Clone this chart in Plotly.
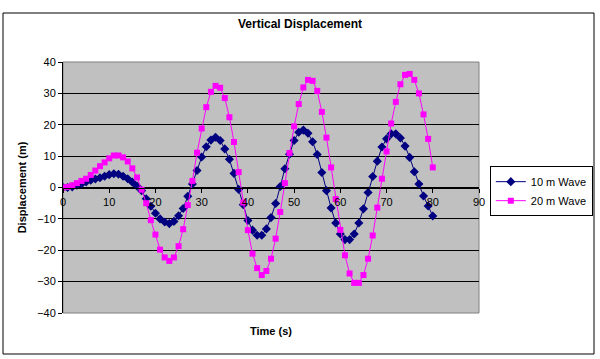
import plotly.graph_objects as go

time_s = list(range(0, 81))

wave_10m = [0, 0, 0.2, 0.7, 1.1, 1.8, 2.3, 2.7, 3.1, 3.6,
            4.1, 4.4, 4.2, 3.6, 2.8, 1.7, 0.5, -1.0, -3.6, -6.0,
            -8.2, -10.0, -11.0, -11.5, -10.8, -9.0, -6.7, -2.8, 1.1, 5.4,
            9.7, 13.0, 15.1, 16.0, 15.0, 12.3, 9.0, 4.5, -0.6, -5.5,
            -10.5, -13.6, -15.2, -15.2, -13.2, -9.6, -5.1, 0.3, 6.0, 10.6,
            15.0, 17.6, 18.3, 17.3, 14.6, 10.5, 4.8, -1.0, -6.5, -11.3,
            -14.8, -16.6, -16.6, -14.8, -11.3, -6.8, -1.6, 3.5, 8.4, 12.9,
            15.5, 17.1, 17.1, 15.8, 13.2, 9.6, 5.0, 1.1, -2.7, -5.9,
            -9.1]

wave_20m = [0, 0.2, 0.7, 1.4, 2.1, 2.8, 4.0, 5.4, 6.8, 8.0,
            9.3, 10.2, 10.2, 9.6, 8.3, 6.1, 3.2, -0.7, -5.0, -10.4,
            -15.0, -19.8, -22.3, -23.4, -22.3, -18.7, -13.3, -5.6, 2.1, 11.1,
            18.8, 25.6, 30.5, 32.4, 31.8, 28.5, 22.4, 14.5, 4.9, -4.8,
            -13.6, -21.1, -25.7, -27.9, -26.6, -22.7, -16.3, -7.8, 1.4, 11.0,
            19.5, 26.6, 31.9, 34.3, 34.0, 30.8, 24.1, 15.9, 6.4, -3.7,
            -13.5, -21.6, -27.4, -30.4, -30.4, -27.9, -22.7, -15.3, -6.4, 2.8,
            11.5, 20.4, 27.3, 32.9, 35.9, 36.2, 34.3, 30.0, 23.3, 15.5,
            6.4]

x_ticks = [0, 10, 20, 30, 40, 50, 60, 70, 80, 90]
y_ticks = [-40, -30, -20, -10, 0, 10, 20, 30, 40]

FONT = "Liberation Sans, Arial, sans-serif"

fig = go.Figure()
fig.add_trace(go.Scatter(
    x=time_s, y=wave_10m, name="10 m Wave", mode="lines+markers",
    line=dict(color="#000080", width=1),
    marker=dict(symbol="diamond", size=7, color="#000080"),
))
fig.add_trace(go.Scatter(
    x=time_s, y=wave_20m, name="20 m Wave", mode="lines+markers",
    line=dict(color="#FF00FF", width=1),
    marker=dict(symbol="square", size=6, color="#FF00FF"),
))

fig.update_layout(
    width=600, height=359,
    margin=dict(l=63, r=121, t=62, b=46, autoexpand=False),
    paper_bgcolor="white",
    plot_bgcolor="#C0C0C0",
    font=dict(family=FONT, size=11, color="black"),
    title=dict(text="<b>Vertical Displacement</b>", x=0.5, xanchor="center",
               y=1 - 24 / 359, yanchor="middle",
               font=dict(family=FONT, size=12, color="black")),
    showlegend=True,
    legend=dict(x=1.026, y=0.585, xanchor="left", yanchor="top",
                bgcolor="white", bordercolor="black", borderwidth=1,
                font=dict(family=FONT, size=11, color="black"),
                tracegroupgap=0, itemwidth=30),
    xaxis=dict(range=[0, 90], tickvals=x_ticks, ticks="outside", ticklen=4,
               tickcolor="black", showline=True, linecolor="black", linewidth=1,
               showgrid=False, zeroline=False, anchor="free", position=0.5,
               tickfont=dict(family=FONT, size=11, color="black")),
    yaxis=dict(range=[-40, 40], tickvals=y_ticks, ticks="outside", ticklen=4,
               tickcolor="black", showline=True, linecolor="black", linewidth=1,
               showgrid=True, gridcolor="black", gridwidth=1, zeroline=False,
               title=dict(text="<b>Displacement (m)</b>", standoff=8,
                          font=dict(family=FONT, size=11, color="black")),
               tickfont=dict(family=FONT, size=11, color="black")),
)

# plot-area border (gray) and outer chart border (black)
fig.add_shape(type="rect", xref="paper", yref="paper", x0=0, x1=1, y0=0, y1=1,
              line=dict(color="#808080", width=1), layer="below")
fig.add_shape(type="rect", xref="paper", yref="paper",
              x0=(3 - 63) / 416, x1=(594 - 63) / 416,
              y0=(313 - 354) / 251, y1=(313 - 13) / 251,
              line=dict(color="black", width=1))

fig.add_annotation(text="<b>Time (s)</b>", xref="paper", yref="paper",
                   x=0.5, y=(313 - 331) / 251, xanchor="center", yanchor="middle",
                   showarrow=False, font=dict(family=FONT, size=11, color="black"))

fig.write_html("out.html", config={"displayModeBar": False},
               post_script="document.body.style.margin='0';")
